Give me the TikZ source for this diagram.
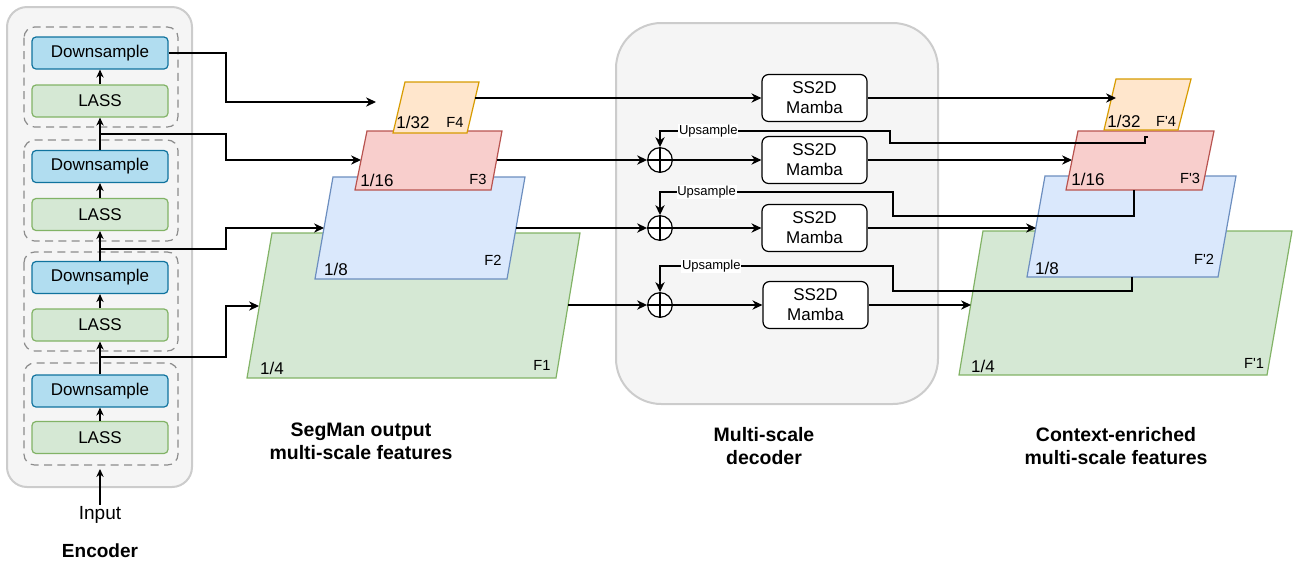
\documentclass[tikz,border=0pt]{standalone}
\usepackage{fontspec}
\setmainfont{Liberation Sans}
\usetikzlibrary{arrows.meta,calc}
\definecolor{encfill}{HTML}{F5F5F5}
\definecolor{encdraw}{HTML}{CCCCCC}
\definecolor{dsfill}{HTML}{B1DDF0}
\definecolor{dsdraw}{HTML}{10739E}
\definecolor{gfill}{HTML}{D5E8D4}
\definecolor{gdraw}{HTML}{82B366}
\definecolor{bfill}{HTML}{DAE8FC}
\definecolor{bdraw}{HTML}{6C8EBF}
\definecolor{rfill}{HTML}{F8CECC}
\definecolor{rdraw}{HTML}{B85450}
\definecolor{ofill}{HTML}{FFE6CC}
\definecolor{odraw}{HTML}{D79B00}
\definecolor{dashc}{HTML}{8C8C8C}
\begin{document}
\begin{tikzpicture}[x=0.75pt,y=-0.75pt,
  arr/.style={-{Stealth[length=7.5pt,width=7pt]}, line width=0.9pt},
  sarr/.style={-{Stealth[length=6pt,width=5.5pt]}, line width=0.9pt},
  blk/.style={draw, rounded corners=3pt, minimum width=102pt, minimum height=24pt, inner sep=0pt, line width=0.9pt, font=\fontsize{12.75}{15}\selectfont},
  ds/.style={blk, fill=dsfill, draw=dsdraw},
  lass/.style={blk, fill=gfill, draw=gdraw},
  grp/.style={draw=dashc, dash pattern=on 6pt off 4pt, rounded corners=8pt, line width=0.9pt},
  bigbox/.style={fill=encfill, draw=encdraw, line width=1.5pt},
  mamba/.style={draw, rounded corners=5pt, fill=white, minimum width=78.75pt, minimum height=35.25pt, inner sep=0pt, align=center, font=\fontsize{12.75}{15}\selectfont, line width=0.9pt},
  plus/.style={circle, draw, minimum size=18.5pt, inner sep=0pt, fill=white, line width=0.9pt,
    path picture={\draw[line width=0.9pt] (path picture bounding box.north) -- (path picture bounding box.south) (path picture bounding box.west) -- (path picture bounding box.east);}},
  upl/.style={fill=white, inner sep=0.6pt, font=\fontsize{9.75}{11}\selectfont},
  flab/.style={inner sep=0pt, font=\fontsize{12.75}{14}\selectfont},
  fname/.style={inner sep=0pt, font=\fontsize{11}{12}\selectfont},
  feat/.style={line width=0.9pt},
  captxt/.style={align=center, font=\fontsize{14.6}{17.25}\selectfont\bfseries, inner sep=0pt},
]
\useasboundingbox (0,0) rectangle (1293,562);

% ---------- backgrounds ----------
\draw[bigbox, rounded corners=15pt] (7,7) rectangle (192,487);
\draw[bigbox, rounded corners=34pt] (616,23) rectangle (938,404);

% ---------- encoder ----------
\draw[grp] (24,27) rectangle (178,127);
\draw[grp] (24,140) rectangle (178,241);
\draw[grp] (24,252) rectangle (178,351);
\draw[grp] (24,363) rectangle (178,465);

\node[ds]   (d1) at (100,53)    {Downsample};
\node[lass] (l1) at (100,101)   {LASS};
\node[ds]   (d2) at (100,166.5) {Downsample};
\node[lass] (l2) at (100,214.5) {LASS};
\node[ds]   (d3) at (100,277.5) {Downsample};
\node[lass] (l3) at (100,325)   {LASS};
\node[ds]   (d4) at (100,391)   {Downsample};
\node[lass] (l4) at (100,437.5) {LASS};

\draw[sarr] (l1.north) -- (d1.south);
\draw[sarr] (l2.north) -- (d2.south);
\draw[sarr] (l3.north) -- (d3.south);
\draw[sarr] (l4.north) -- (d4.south);
\draw[sarr] (d2.north) -- (l1.south);
\draw[sarr] (d3.north) -- (l2.south);
\draw[sarr] (d4.north) -- (l3.south);

\node[inner sep=1pt, font=\fontsize{14.25}{16}\selectfont] (in) at (100,515) {Input};
\coordinate (g4b) at (100,469);
\draw[sarr] (in.north) -- (g4b);
\node[inner sep=0pt, font=\fontsize{14.25}{16}\selectfont\bfseries] (enc) at (100,551) {Encoder};

% ---------- left features ----------
\filldraw[feat, fill=gfill, draw=gdraw] (272,233) -- (580,233) -- (556,378) -- (247,378) -- cycle;
\filldraw[feat, fill=bfill, draw=bdraw] (333,177) -- (525,177) -- (507,279) -- (315,279) -- cycle;
\filldraw[feat, fill=rfill, draw=rdraw] (367,131) -- (502,131) -- (491,190) -- (355,190) -- cycle;
\filldraw[feat, fill=ofill, draw=odraw] (405,82) -- (479,82) -- (467,133) -- (393,133) -- cycle;

\node[flab]  (t32) at (413,122) {1/32};
\node[fname] (tF4) at (455,122) {F4};
\node[flab]  (t16) at (377,180) {1/16};
\node[fname] (tF3) at (478,179) {F3};
\node[flab]  (t8)  at (336,269) {1/8};
\node[fname] (tF2) at (493,260) {F2};
\node[flab]  (t4)  at (272,368) {1/4};
\node[fname] (tF1) at (542,365) {F1};

\coordinate (F4in)  at (376,102);
\coordinate (F3in)  at (361,160);
\coordinate (F2in)  at (324,228);
\coordinate (F1in)  at (259,306);
\coordinate (F4out) at (475,98);
\coordinate (F3out) at (497,160);
\coordinate (F2out) at (516,228);
\coordinate (F1out) at (568,305);

% encoder -> features
\coordinate (b1) at (100,134);
\coordinate (b2) at (100,249);
\coordinate (b3) at (100,357);
\draw[arr] (d1.east) -| (226,102) -- (F4in);
\draw[arr] (b1) -| (226,160) -- (F3in);
\draw[arr] (b2) -| (226,228) -- (F2in);
\draw[arr] (b3) -| (226,306) -- (F1in);

% ---------- decoder ----------
\node[mamba] (m1) at (814.5,98)  {SS2D\\Mamba};
\node[mamba] (m2) at (814.5,160) {SS2D\\Mamba};
\node[mamba] (m3) at (814.5,228) {SS2D\\Mamba};
\node[mamba] (m4) at (815.5,305) {SS2D\\Mamba};
\node[plus] (p1) at (660,160) {};
\node[plus] (p2) at (660,228) {};
\node[plus] (p3) at (660,305) {};

\draw[arr] (F4out) -- (m1.west);
\draw[arr] (F3out) -- (p1.west);
\draw[arr] (F2out) -- (p2.west);
\draw[arr] (F1out) -- (p3.west);
\draw[arr] (p1.east) -- (m2.west);
\draw[arr] (p2.east) -- (m3.west);
\draw[arr] (p3.east) -- (m4.west);

% ---------- right features ----------
\filldraw[feat, fill=gfill, draw=gdraw] (983,231) -- (1292,231) -- (1267,375) -- (959,375) -- cycle;
\filldraw[feat, fill=bfill, draw=bdraw] (1045,176) -- (1236,176) -- (1218,277) -- (1027,277) -- cycle;
\filldraw[feat, fill=rfill, draw=rdraw] (1078,131) -- (1214,131) -- (1202,190) -- (1066,190) -- cycle;
\filldraw[feat, fill=ofill, draw=odraw] (1116,79) -- (1191,79) -- (1178,130) -- (1104,130) -- cycle;

\node[flab]  (r32) at (1124,121) {1/32};
\node[fname] (rF4) at (1166,121) {F\textquotesingle 4};
\node[flab]  (r16) at (1088,179) {1/16};
\node[fname] (rF3) at (1190,178) {F\textquotesingle 3};
\node[flab]  (r8)  at (1047,268) {1/8};
\node[fname] (rF2) at (1204,259) {F\textquotesingle 2};
\node[flab]  (r4)  at (983,366)  {1/4};
\node[fname] (rF1) at (1254,363) {F\textquotesingle 1};

\coordinate (G4in) at (1116,98);
\coordinate (G3in) at (1072,160);
\coordinate (G2in) at (1036,228);
\coordinate (G1in) at (971,305);
\draw[arr] (m1.east) -- (G4in);
\draw[arr] (m2.east) -- (G3in);
\draw[arr] (m3.east) -- (G2in);
\draw[arr] (m4.east) -- (G1in);

% upsample paths
\coordinate (U1s) at (1148,137);
\coordinate (U2s) at (1134,190);
\coordinate (U3s) at (1132,277);
\draw[arr] (U1s) -- (1145,137) -- (1145,143) -- (890,143) -- (890,131) -- node[upl, pos=0.79] {Upsample} (660,131) -- (p1.north);
\draw[arr] (U2s) -- (1134,216) -- (893,216) -- (893,192) -- node[upl, pos=0.80] {Upsample} (660,192) -- (p2.north);
\draw[arr] (U3s) -- (1132,291) -- (893,291) -- (893,266) -- node[upl, pos=0.78] {Upsample} (660,266) -- (p3.north);

% ---------- captions ----------
\node[captxt] (c1) at (361,441)  {SegMan output\\multi-scale features};
\node[captxt] (c2) at (764,446)  {Multi-scale\\decoder};
\node[captxt] (c3) at (1116,446) {Context-enriched\\multi-scale features};
\end{tikzpicture}
\end{document}
